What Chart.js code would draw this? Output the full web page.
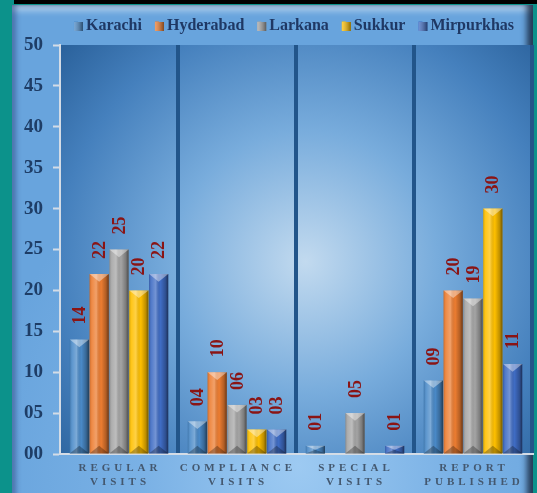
<!DOCTYPE html>
<html><head><meta charset="utf-8">
<script src="https://cdn.jsdelivr.net/npm/chart.js@4.4.1/dist/chart.umd.min.js"></script>
<style>
html,body{margin:0;padding:0;}
body{width:537px;height:493px;overflow:hidden;background:#0c928b;position:relative;}
#topbar{position:absolute;left:14px;top:0;width:523px;height:4px;background:#000;}
#panel{position:absolute;left:12px;top:5px;width:521px;height:500px;
 background: radial-gradient(ellipse 60% 70% at 55% 92%, #9dcaf2 0%, #7ab1e5 50%, #68a4dd 100%);
 box-shadow: inset 5px 0 5px -1px rgba(30,50,110,0.45), inset -8px 0 6px -2px rgba(10,20,40,0.75), inset 0 9px 6px -3px rgba(255,255,255,0.45);}
#wrap{position:absolute;left:0;top:0;width:537px;height:493px;}
</style></head><body>
<div id="topbar"></div><div id="panel"></div>
<div id="wrap"><canvas id="c" width="537" height="493"></canvas></div>
<script>
const categories = [["REGULAR","VISITS"],["COMPLIANCE","VISITS"],["SPECIAL","VISITS"],["REPORT","PUBLISHED"]];
const seriesNames = ["Karachi","Hyderabad","Larkana","Sukkur","Mirpurkhas"];
const seriesColors = ["#4a8ac8","#ed7d31","#a5a5a5","#ffc000","#3f6cc4"];
const karachi    = [14, 4, 1, 9];
const hyderabad  = [22, 10, 0, 20];
const larkana    = [25, 6, 5, 19];
const sukkur     = [20, 3, 0, 30];
const mirpurkhas = [22, 3, 1, 11];
const yMin = 0, yMax = 50, yStep = 5;

const SERIF = '"Liberation Serif","Times New Roman",serif';
const seriesValues = [karachi, hyderabad, larkana, sukkur, mirpurkhas];

function pad2(v){ return String(v).padStart(2,'0'); }

const LEGEND_SHIFT = 28;

const bgPlugin = {
  id:'plotBg',
  afterInit(chart){
    const lg = chart.legend;
    if (lg && !lg._patched){
      const orig = lg.fit.bind(lg);
      lg.fit = function(){ orig(); if (this.isHorizontal()) this.height = 40; };
      lg._patched = true;
    }
  },
  afterLayout(chart){
    const lg = chart.legend;
    if (lg){
      lg.left += LEGEND_SHIFT; lg.right += LEGEND_SHIFT;
      (lg.legendHitBoxes||[]).forEach(h => h.left += LEGEND_SHIFT);
    }
  },
  beforeDraw(chart){
    const {ctx, chartArea:a} = chart;
    ctx.save();
    const cx = a.left + (a.right-a.left)*0.52, cy = a.top + (a.bottom-a.top)*0.53;
    const g = ctx.createRadialGradient(cx,cy,0,cx,cy,330);
    g.addColorStop(0,'#c2daef');
    g.addColorStop(0.4,'#78acdc');
    g.addColorStop(0.75,'#4580bd');
    g.addColorStop(1,'#29609a');
    ctx.fillStyle = g;
    ctx.fillRect(a.left, a.top, a.right-a.left, a.bottom-a.top);
    ctx.restore();
  },
  afterDatasetsDraw(chart){
    const ctx = chart.ctx;
    ctx.save();
    chart.data.datasets.forEach((ds, di) => {
      const meta = chart.getDatasetMeta(di);
      meta.data.forEach((bar, i) => {
        const v = ds.data[i];
        const w = bar.width, l = bar.x - w/2, r = bar.x + w/2;
        const top = Math.min(bar.y, bar.base), bot = Math.max(bar.y, bar.base);
        const h = bot - top;
        if (h > 0.5){
          const g = ctx.createLinearGradient(l,0,r,0);
          g.addColorStop(0,'rgba(0,0,0,0.15)');
          g.addColorStop(0.12,'rgba(255,255,255,0.10)');
          g.addColorStop(0.35,'rgba(255,255,255,0.28)');
          g.addColorStop(0.6,'rgba(0,0,0,0)');
          g.addColorStop(0.85,'rgba(0,0,0,0.25)');
          g.addColorStop(1,'rgba(0,0,0,0.55)');
          ctx.fillStyle = g;
          ctx.fillRect(l, top, w, h);
          const bh = Math.min(w*0.4, h/2);
          ctx.fillStyle = 'rgba(255,255,255,0.4)';
          ctx.beginPath(); ctx.moveTo(l,top); ctx.lineTo(r,top); ctx.lineTo(bar.x, top+bh); ctx.closePath(); ctx.fill();
          ctx.fillStyle = 'rgba(0,0,0,0.28)';
          ctx.beginPath(); ctx.moveTo(l,bot); ctx.lineTo(r,bot); ctx.lineTo(bar.x, bot-bh); ctx.closePath(); ctx.fill();
        }
        if (v > 0){
          ctx.save();
          ctx.translate(bar.x + 1, top - 15);
          ctx.rotate(-Math.PI/2);
          ctx.font = 'bold 18px ' + SERIF;
          ctx.fillStyle = '#8a1414';
          ctx.textAlign = 'left';
          ctx.textBaseline = 'middle';
          ctx.fillText(pad2(v), 0, 0);
          ctx.restore();
        }
      });
    });
    ctx.restore();
  },
  afterDraw(chart){
    const ctx = chart.ctx;
    const xs = chart.scales.x;
    ctx.save();
    ctx.font = 'bold 11px ' + SERIF;
    ctx.fillStyle = '#44586f';
    ctx.letterSpacing = '4px';
    ctx.textAlign = 'center';
    ctx.textBaseline = 'middle';
    categories.forEach((lines, i) => {
      const x = xs.getPixelForValue(i) + 1;
      lines.forEach((t, j) => ctx.fillText(t, x, xs.top + 14.5 + j*14));
    });
    ctx.restore();
    const lg = chart.legend;
    if (lg && lg.legendHitBoxes){
      ctx.save();
      lg.legendHitBoxes.forEach((hb, i) => {
        const bx = hb.left, by = hb.top + (hb.height-9)/2 + 0.5;
        ctx.fillStyle = seriesColors[i];
        ctx.fillRect(bx, by, 9, 9);
        const g = ctx.createLinearGradient(bx,0,bx+9,0);
        g.addColorStop(0,'rgba(255,255,255,0.25)');
        g.addColorStop(1,'rgba(0,0,0,0.45)');
        ctx.fillStyle = g;
        ctx.fillRect(bx, by, 9, 9);
      });
      ctx.restore();
    }
  }
};

new Chart(document.getElementById('c'), {
  type:'bar',
  data:{
    labels: categories,
    datasets: seriesNames.map((n, i) => ({
      label: n,
      data: seriesValues[i],
      backgroundColor: seriesColors[i],
      borderWidth: 0,
      categoryPercentage: 0.84,
      barPercentage: 0.97
    }))
  },
  options:{
    responsive:false,
    animation:false,
    layout:{ padding:{ left:0, right:5, top:5, bottom:0 } },
    plugins:{
      legend:{
        position:'top',
        labels:{ boxWidth:4, boxHeight:9, padding:13, color:'#1f3864', font:{ family:SERIF, size:16, weight:'bold' } }
      },
      tooltip:{ enabled:false }
    },
    scales:{
      x:{
        offset:true,
        grid:{ offset:true, drawTicks:false, lineWidth:4, color:(c)=> c.index===0 ? 'rgba(0,0,0,0)' : '#22558a' },
        border:{ display:true, color:'#d4dce6', width:2 },
        ticks:{ display:false },
        afterFit(s){ s.height = 39; }
      },
      y:{
        min:yMin, max:yMax,
        ticks:{ stepSize:yStep, callback:(v)=>pad2(v), color:'#1e3d66', padding:10, font:{ family:SERIF, size:19, weight:'bold' } },
        grid:{ drawOnChartArea:false, drawTicks:true, tickLength:7, tickColor:'#d4dce6', tickWidth:2 },
        border:{ display:true, color:'#d4dce6', width:2 },
        afterFit(s){ s.width = 60; }
      }
    }
  },
  plugins:[bgPlugin]
});
</script>
</body></html>
